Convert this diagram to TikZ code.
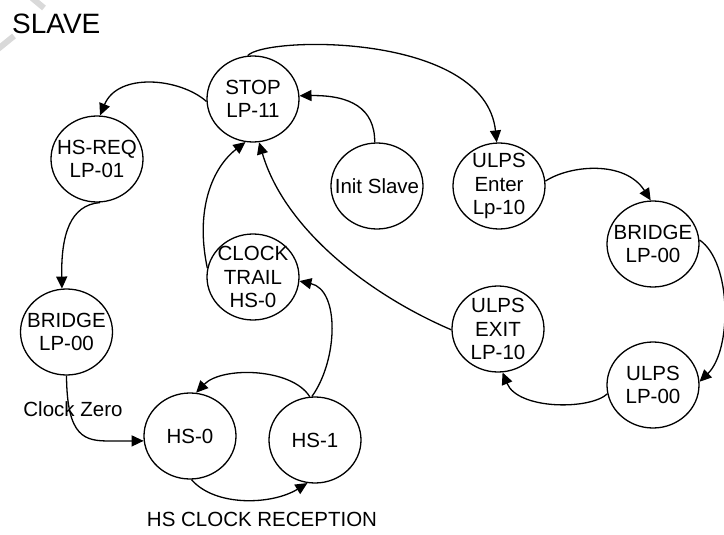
\documentclass[tikz,border=0pt]{standalone}
\usepackage{fontspec}
\setmainfont{Liberation Sans}
\usetikzlibrary{arrows.meta,shapes.geometric}
\begin{document}
\begin{tikzpicture}[x=1pt,y=-1pt,
  lbl/.style={inner sep=0pt,font=\fontsize{20.5}{23.5}\selectfont},
  state/.style={ellipse,draw,line width=1.3pt,minimum width=92pt,minimum height=86pt,inner sep=0pt,
    label={[lbl,align=center]center:#1}},
  arr/.style={line width=1.3pt,-{Triangle[length=12pt,width=11pt]}},
  wm/.style={gray!30,line width=6pt}]
\useasboundingbox (0,0) rectangle (724,535);
% watermark fragments
\draw[wm] (-2,49) -- (14,36);
\draw[wm] (32,-2) -- (44,8);
% states
\node[state={STOP\\LP-11}] (stop) at (253,99) {};
\node[state={HS-REQ\\LP-01}] (hsreq) at (97,159) {};
\node[state={BRIDGE\\LP-00}] (bridgel) at (66.5,332) {};
\node[state={CLOCK\\TRAIL\\HS-0}] (clock) at (253,277) {};
\node[state={HS-0}] (hs0) at (190,436) {};
\node[state={HS-1}] (hs1) at (315,440) {};
\node[state={Init Slave}] (init) at (377,186) {};
\node[state={ULPS\\Enter\\Lp-10}] (ulpsenter) at (499,186) {};
\node[state={BRIDGE\\LP-00}] (bridger) at (653,244) {};
\node[state={ULPS\\LP-00}] (ulpslp) at (653,385) {};
\node[state={ULPS\\EXIT\\LP-10}] (ulpsexit) at (498,329) {};
% texts
\node[lbl,anchor=west,font=\fontsize{28}{30}\selectfont] (slave) at (12,24) {SLAVE};
\node[lbl] (clockzero) at (73,409) {Clock Zero};
\node[lbl] (hscr) at (262,519) {HS CLOCK RECEPTION};
% transitions
\draw[arr] (stop.183) .. controls (180,78) and (118,72) .. (hsreq.86);
\draw[arr] (hsreq.274) .. controls (70,205) and (61,235) .. (bridgel.96);
\draw[arr] (bridgel.270) .. controls (67,438) and (85,441) .. (110,441) -- (hs0.186);
\draw[arr] (hs0.272) .. controls (215,507) and (272,505) .. (hs1.260);
\draw[arr] (hs1.97) .. controls (292,368) and (222,366) .. (hs0.82);
\draw[arr] (hs1.94) .. controls (338,360) and (340,290) .. (clock.355);
\draw[arr] (clock.169) .. controls (195,210) and (212,168) .. (stop.260);
\draw[arr] (ulpsexit.181) .. controls (370,295) and (285,230) .. (stop.278);
\draw[arr] (init.93) .. controls (375,108) and (350,95) .. (stop.4);
\draw[arr] (stop.97) .. controls (265,36) and (485,32) .. (ulpsenter.93);
\draw[arr] (ulpsenter.6) .. controls (570,165) and (625,160) .. (bridger.93);
\draw[arr] (bridger.5) .. controls (732,262) and (732,350) .. (ulpslp.4);
\draw[arr] (ulpslp.191) .. controls (590,410) and (518,410) .. (ulpsexit.276);
\end{tikzpicture}
\end{document}
